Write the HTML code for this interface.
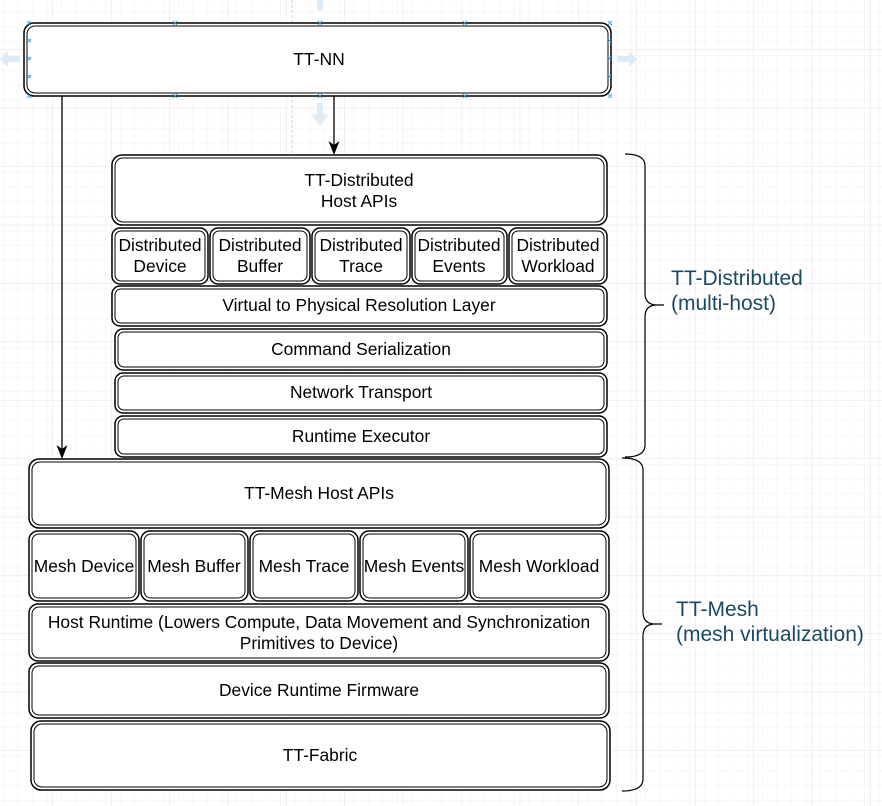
<!DOCTYPE html>
<html><head><meta charset="utf-8"><style>
html,body{margin:0;padding:0;background:#fff;}
svg{display:block;}
text{font-family:"Liberation Sans",Arial,sans-serif;}
</style></head><body>
<svg width="882" height="806" viewBox="0 0 882 806" xmlns="http://www.w3.org/2000/svg">
<defs>
<pattern id="minor" width="14.6" height="14.6" patternUnits="userSpaceOnUse" x="9" y="6">
<path d="M14.6 0V14.6H0" fill="none" stroke="#f0f0f0" stroke-width="1"/>
</pattern>
<pattern id="major" width="58.4" height="58.4" patternUnits="userSpaceOnUse" x="53" y="50">
<rect width="58.4" height="58.4" fill="url(#minor)"/>
<path d="M58.4 0V58.4H0" fill="none" stroke="#e2e2e2" stroke-width="1"/>
</pattern>
</defs>
<rect width="882" height="806" fill="url(#major)"/>
<line x1="292" y1="0" x2="292" y2="155" stroke="#ccc" stroke-dasharray="3,2"/>

<g fill="#dcebf7">
<path d="M317 0h6v10h-6z"/>
<path d="M317 103h6v12h5l-8 11l-8-11h5z"/>
<path d="M20 56v6h-12v5l-8-8l8-8v5z"/>
<path d="M617 56v6h12v5l8-8l-8-8v5z"/>
</g>

<g fill="#fff" stroke="#000">
<rect x="24" y="23" width="587" height="73" rx="10" stroke-width="1.5"/>
<rect x="27" y="26" width="581" height="67" rx="8" stroke-width="1"/>
<rect x="112" y="155" width="495" height="70" rx="10" stroke-width="1.5"/><rect x="115" y="158" width="489" height="64" rx="8"/>

<rect x="112" y="228" width="96" height="56" rx="8" stroke-width="1.5"/><rect x="115" y="231" width="90" height="50" rx="6"/>
<rect x="210" y="228" width="100" height="56" rx="8" stroke-width="1.5"/><rect x="213" y="231" width="94" height="50" rx="6"/>
<rect x="312" y="228" width="98" height="56" rx="8" stroke-width="1.5"/><rect x="315" y="231" width="92" height="50" rx="6"/>
<rect x="412" y="228" width="95" height="56" rx="8" stroke-width="1.5"/><rect x="415" y="231" width="89" height="50" rx="6"/>
<rect x="509" y="228" width="98" height="56" rx="8" stroke-width="1.5"/><rect x="512" y="231" width="92" height="50" rx="6"/>

<rect x="112" y="286" width="495" height="40" rx="8" stroke-width="1.5"/><rect x="115" y="289" width="489" height="34" rx="6"/>
<rect x="115" y="329" width="492" height="41" rx="8" stroke-width="1.5"/><rect x="118" y="332" width="486" height="35" rx="6"/>
<rect x="115" y="373" width="492" height="40" rx="8" stroke-width="1.5"/><rect x="118" y="376" width="486" height="34" rx="6"/>
<rect x="115" y="416" width="492" height="41" rx="8" stroke-width="1.5"/><rect x="118" y="419" width="486" height="35" rx="6"/>

<rect x="29" y="459" width="580" height="69" rx="10" stroke-width="1.5"/><rect x="32" y="462" width="574" height="63" rx="8"/>

<rect x="29" y="531" width="110" height="70" rx="9" stroke-width="1.5"/><rect x="32" y="534" width="104" height="64" rx="7"/>
<rect x="141" y="531" width="107" height="70" rx="9" stroke-width="1.5"/><rect x="144" y="534" width="101" height="64" rx="7"/>
<rect x="250" y="531" width="108" height="70" rx="9" stroke-width="1.5"/><rect x="253" y="534" width="102" height="64" rx="7"/>
<rect x="360" y="531" width="108" height="70" rx="9" stroke-width="1.5"/><rect x="363" y="534" width="102" height="64" rx="7"/>
<rect x="470" y="531" width="139" height="70" rx="9" stroke-width="1.5"/><rect x="473" y="534" width="133" height="64" rx="7"/>

<rect x="29" y="604" width="580" height="57" rx="9" stroke-width="1.5"/><rect x="32" y="607" width="574" height="51" rx="7"/>
<rect x="29" y="663" width="580" height="55" rx="9" stroke-width="1.5"/><rect x="32" y="666" width="574" height="49" rx="7"/>
<rect x="31" y="721" width="579" height="69" rx="10" stroke-width="1.5"/><rect x="34" y="724" width="573" height="63" rx="8"/>
</g>

<g stroke="#3fa5e0" stroke-width="1" fill="none">
<path d="M27 21l4 4M31 21l-4 4 M173 21l4 4M177 21l-4 4 M318 21l4 4M322 21l-4 4 M463 21l4 4M467 21l-4 4 M608 21l4 4M612 21l-4 4"/>
<path d="M27 94l4 4M31 94l-4 4 M173 94l4 4M177 94l-4 4 M318 94l4 4M322 94l-4 4 M463 94l4 4M467 94l-4 4 M608 94l4 4M612 94l-4 4"/>
<path d="M28 39l3 3M31 39l-3 3 M28 57l3 3M31 57l-3 3 M28 75l3 3M31 75l-3 3"/>
<path d="M608 39l3 3M611 39l-3 3 M608 57l3 3M611 57l-3 3 M608 75l3 3M611 75l-3 3"/>
</g>

<line x1="334" y1="96" x2="334" y2="146" stroke="#000" stroke-width="1.3"/>
<path d="M328.5 141 L334 155 L339.5 141 L334 145 Z" fill="#000"/>
<line x1="62" y1="96" x2="62" y2="450" stroke="#000" stroke-width="1.3"/>
<path d="M56.5 445 L62 459 L67.5 445 L62 449 Z" fill="#000"/>

<path d="M625 154 Q645 154 645 166 V293 Q645 305 657 305 H664 M657 305 Q645 305 645 317 V445 Q645 457 625 457" fill="none" stroke="#000" stroke-width="1.2"/>
<path d="M622 458 Q643 458 643 470 V612 Q643 624 655 624 H662 M655 624 Q643 624 643 636 V779 Q643 791 622 791" fill="none" stroke="#000" stroke-width="1.2"/>

<g font-size="17.4" fill="#000" text-anchor="middle">
<text x="319" y="65" font-size="17.5">TT-NN</text>
<text x="359" y="186">TT-Distributed</text>
<text x="359" y="207">Host APIs</text>
<text x="160" y="251">Distributed</text><text x="160" y="272">Device</text>
<text x="260" y="251">Distributed</text><text x="260" y="272">Buffer</text>
<text x="361" y="251">Distributed</text><text x="361" y="272">Trace</text>
<text x="459" y="251">Distributed</text><text x="459" y="272">Events</text>
<text x="558" y="251">Distributed</text><text x="558" y="272">Workload</text>
<text x="359" y="311">Virtual to Physical Resolution Layer</text>
<text x="361" y="355">Command Serialization</text>
<text x="361" y="398">Network Transport</text>
<text x="361" y="442">Runtime Executor</text>
<text x="319" y="499">TT-Mesh Host APIs</text>
<text x="84" y="572">Mesh Device</text>
<text x="194" y="572">Mesh Buffer</text>
<text x="304" y="572">Mesh Trace</text>
<text x="414" y="572">Mesh Events</text>
<text x="539" y="572">Mesh Workload</text>
<text x="319" y="628">Host Runtime (Lowers Compute, Data Movement and Synchronization</text>
<text x="319" y="649">Primitives to Device)</text>
<text x="319" y="696">Device Runtime Firmware</text>
<text x="320" y="761">TT-Fabric</text>
</g>
<g font-size="21" fill="#1b4a63">
<text x="671" y="285">TT-Distributed</text>
<text x="671" y="310">(multi-host)</text>
<text x="676" y="616">TT-Mesh</text>
<text x="676" y="641">(mesh virtualization)</text>
</g>
</svg>
</body></html>
